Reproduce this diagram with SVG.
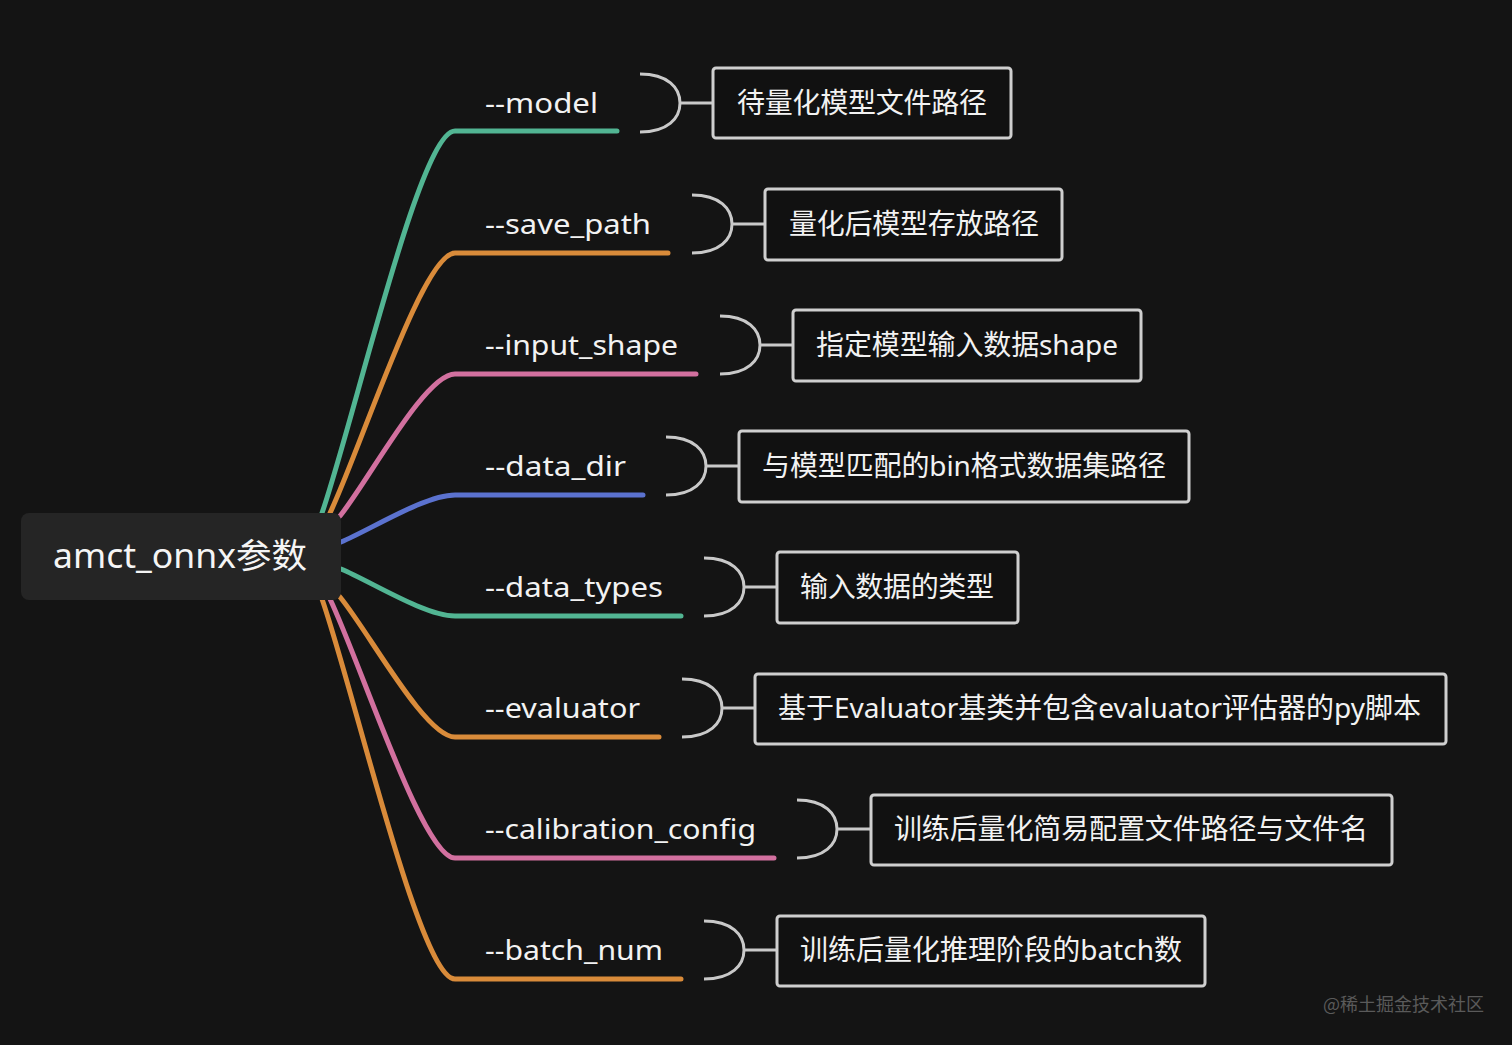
<svg xmlns="http://www.w3.org/2000/svg" width="1512" height="1045" viewBox="0 0 1512 1045">
<style>
.bg{fill:#141414}
.br{fill:none;stroke-width:5;stroke-linecap:round}
.g{stroke:#52b593}.o{stroke:#d98b3a}.p{stroke:#d2709f}.b{stroke:#5b72cf}
.brace{fill:none;stroke:#c9c9c9;stroke-width:3}
.box{fill:#111111;stroke:#cfcfcf;stroke-width:3}
.lbl{font-family:"Noto Sans","Noto Sans CJK SC",sans-serif;font-size:28px;fill:#f2f2f2}
.txt{font-family:"Noto Sans","Noto Sans CJK SC",sans-serif;font-size:28px;fill:#f2f2f2}
.root{font-family:"Noto Sans","Noto Sans CJK SC",sans-serif;font-size:34px;fill:#f5f5f5}
.wm{font-family:"Noto Sans CJK SC",sans-serif;font-size:18px;fill:#5a5a5a}
</style>
<rect class="bg" x="0" y="0" width="1512" height="1045"/>
<g id="connectors">
<path class="br g" d="M322,513 C355,417 420,131 455,131 L617,131"/>
<path class="br o" d="M330,513 C361,448 423,253 455,253 L668,253"/>
<path class="br p" d="M340,516 C369,480 425,374 455,374 L696,374"/>
<path class="br b" d="M341,542 C370,530 425,495 455,495 L643,495"/>
<path class="br g" d="M341,569 C370,581 425,616 455,616 L681,616"/>
<path class="br o" d="M340,597 C369,632 425,737 455,737 L659,737"/>
<path class="br p" d="M330,599 C361,664 423,858 455,858 L774,858"/>
<path class="br o" d="M322,599 C355,694 420,979 455,979 L681,979"/>
<path class="brace" d="M640,74 C668,74 680,88 680,103 C680,118 668,132 640,132 M680,103 L713,103"/>
<path class="brace" d="M692,195 C720,195 732,209 732,224 C732,239 720,253 692,253 M732,224 L765,224"/>
<path class="brace" d="M720,316 C748,316 760,330 760,345 C760,360 748,374 720,374 M760,345 L793,345"/>
<path class="brace" d="M666,437 C694,437 706,451 706,466 C706,481 694,495 666,495 M706,466 L739,466"/>
<path class="brace" d="M704,558 C732,558 744,572 744,587 C744,602 732,616 704,616 M744,587 L777,587"/>
<path class="brace" d="M682,679 C710,679 722,693 722,708 C722,723 710,737 682,737 M722,708 L755,708"/>
<path class="brace" d="M797,800 C825,800 837,814 837,829 C837,844 825,858 797,858 M837,829 L871,829"/>
<path class="brace" d="M704,921 C732,921 744,935 744,950 C744,965 732,979 704,979 M744,950 L777,950"/>
</g>
<g id="root">
<rect x="21" y="513" width="320" height="87" rx="8" fill="#252525"/>
<text class="root" x="53" y="568" textLength="254" lengthAdjust="spacingAndGlyphs">amct_onnx参数</text>
</g>
<g id="n-model"><text class="lbl" x="485" y="113" textLength="113" lengthAdjust="spacingAndGlyphs">--model</text></g>
<g id="n-save"><text class="lbl" x="485" y="234" textLength="166" lengthAdjust="spacingAndGlyphs">--save_path</text></g>
<g id="n-input"><text class="lbl" x="485" y="355" textLength="193" lengthAdjust="spacingAndGlyphs">--input_shape</text></g>
<g id="n-datadir"><text class="lbl" x="485" y="476" textLength="141" lengthAdjust="spacingAndGlyphs">--data_dir</text></g>
<g id="n-datatypes"><text class="lbl" x="485" y="597" textLength="178" lengthAdjust="spacingAndGlyphs">--data_types</text></g>
<g id="n-eval"><text class="lbl" x="485" y="718" textLength="155" lengthAdjust="spacingAndGlyphs">--evaluator</text></g>
<g id="n-calib"><text class="lbl" x="485" y="839" textLength="271" lengthAdjust="spacingAndGlyphs">--calibration_config</text></g>
<g id="n-batch"><text class="lbl" x="485" y="960" textLength="178" lengthAdjust="spacingAndGlyphs">--batch_num</text></g>
<g id="d-model"><rect class="box" x="713" y="68" width="298" height="70" rx="3"/><text class="txt" x="737" y="113" textLength="250">待量化模型文件路径</text></g>
<g id="d-save"><rect class="box" x="765" y="189" width="297" height="71" rx="3"/><text class="txt" x="789" y="234" textLength="250">量化后模型存放路径</text></g>
<g id="d-input"><rect class="box" x="793" y="310" width="348" height="71" rx="3"/><text class="txt" x="816" y="355" textLength="302">指定模型输入数据shape</text></g>
<g id="d-datadir"><rect class="box" x="739" y="431" width="450" height="71" rx="3"/><text class="txt" x="762" y="476" textLength="404">与模型匹配的bin格式数据集路径</text></g>
<g id="d-datatypes"><rect class="box" x="777" y="552" width="241" height="71" rx="3"/><text class="txt" x="800" y="597" textLength="194">输入数据的类型</text></g>
<g id="d-eval"><rect class="box" x="755" y="674" width="691" height="70" rx="3"/><text class="txt" x="778" y="718" textLength="643">基于Evaluator基类并包含evaluator评估器的py脚本</text></g>
<g id="d-calib"><rect class="box" x="871" y="795" width="521" height="70" rx="3"/><text class="txt" x="894" y="839" textLength="474">训练后量化简易配置文件路径与文件名</text></g>
<g id="d-batch"><rect class="box" x="777" y="916" width="428" height="70" rx="3"/><text class="txt" x="800" y="960" textLength="382">训练后量化推理阶段的batch数</text></g>
<text class="wm" x="1323" y="1011">@稀土掘金技术社区</text>
</svg>
